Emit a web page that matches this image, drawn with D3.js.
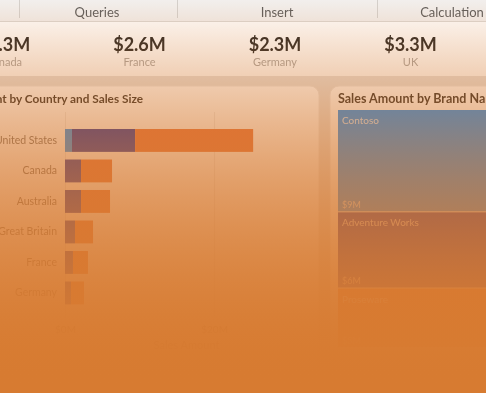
<!DOCTYPE html>
<html>
<head>
<meta charset="utf-8">
<script src="https://cdn.jsdelivr.net/npm/d3@7"></script>
<style>
  html, body { margin: 0; padding: 0; background: #e7e4e2; overflow: hidden; }
  svg { display: block; font-family: Lato, "Open Sans", sans-serif; filter: blur(0.4px); }
</style>
</head>
<body>
<div id="chart"></div>
<script>
var W = 486, H = 393;

// ribbon tabs
var tabs = ["Queries", "Insert", "Calculation"];

// KPI cards
var cardValues = ["$5.3M", "$2.6M", "$2.3M", "$3.3M"];
var cardLabels = ["Canada", "France", "Germany", "UK"];

// bar chart: sales amount ($M) by country and sales size
var countries = ["United States", "Canada", "Australia", "Great Britain", "France", "Germany"];
var sizes = ["Small", "Medium", "Large"];
var small  = [0.94, 0, 0, 0, 0, 0];
var medium = [8.46, 2.15, 2.15, 1.34, 1.07, 0.81];
var large  = [15.84, 4.16, 3.89, 2.42, 2.01, 1.74];
var xTicks = [0, 20];

// treemap: sales amount ($M) by brand
var brands = ["Contoso", "Adventure Works", "Proseware"];
var brandSales = [8.6, 6.4, 5.0];

var svg = d3.select("#chart").append("svg")
  .attr("width", W)
  .attr("height", H);

// canvas
svg.append("rect").attr("width", W).attr("height", H).attr("fill", "#e6e2df");

// ---- ribbon ----
svg.append("rect").attr("x", 0).attr("y", 0).attr("width", W).attr("height", 21).attr("fill", "#f2efed");
svg.append("line").attr("x1", 0).attr("x2", W).attr("y1", 21.5).attr("y2", 21.5)
  .attr("stroke", "#ddd8d4");
[19, 177, 377].forEach(function(sx) {
  svg.append("line").attr("x1", sx + 0.5).attr("x2", sx + 0.5).attr("y1", 0).attr("y2", 18)
    .attr("stroke", "#d4d0cc");
});
var tabX = [97, 277, 452];
svg.selectAll(".tab").data(tabs).enter().append("text")
  .attr("class", "tab")
  .attr("x", function(d, i) { return tabX[i]; })
  .attr("y", 17)
  .attr("text-anchor", "middle")
  .style("font-size", "13px")
  .attr("fill", "#605e5c")
  .text(function(d) { return d; });

// ---- cards ----
svg.append("rect").attr("x", 0).attr("y", 22).attr("width", W).attr("height", 54).attr("fill", "#ffffff");
var cx = d3.scalePoint().domain(cardLabels).range([4, 410.5]);
svg.selectAll(".cardVal").data(cardValues).enter().append("text")
  .attr("class", "cardVal")
  .attr("x", function(d, i) { return cx(cardLabels[i]); })
  .attr("y", 51)
  .attr("text-anchor", "middle")
  .style("font-size", "18px").style("font-weight", "bold")
  .attr("fill", "#252423")
  .text(function(d) { return d; });
svg.selectAll(".cardLab").data(cardLabels).enter().append("text")
  .attr("class", "cardLab")
  .attr("x", function(d) { return cx(d); })
  .attr("y", 66)
  .attr("text-anchor", "middle")
  .style("font-size", "11px")
  .attr("fill", "#a8a6a4")
  .text(function(d) { return d; });

// ---- panels ----
svg.append("rect").attr("x", -20).attr("y", 86).attr("width", 339).attr("height", 340)
  .attr("rx", 9).attr("fill", "#ffffff").attr("stroke", "#ebe8e6");
svg.append("rect").attr("x", 330).attr("y", 86).attr("width", 200).attr("height", 340)
  .attr("rx", 9).attr("fill", "#ffffff").attr("stroke", "#ebe8e6");

// ---- bar chart ----
svg.append("text").attr("x", 143).attr("y", 103).attr("text-anchor", "end")
  .style("font-size", "11.8px").style("font-weight", "bold").attr("fill", "#252423")
  .text("Sales Amount by Country and Sales Size");

var table = countries.map(function(c, i) {
  return { country: c, Small: small[i], Medium: medium[i], Large: large[i] };
});
var stacked = d3.stack().keys(sizes)(table);

var x = d3.scaleLinear().domain([0, 32.6]).range([65, 308]);
var y = d3.scaleBand().domain(countries).range([125.2, 308.2])
  .paddingInner(0.25).paddingOuter(0.125);
var color = d3.scaleOrdinal().domain(sizes).range(["#118dff", "#12239e", "#e66c37"]);

// gridlines
svg.selectAll(".grid").data(xTicks).enter().append("line")
  .attr("class", "grid")
  .attr("x1", function(d) { return x(d) + 0.5; })
  .attr("x2", function(d) { return x(d) + 0.5; })
  .attr("y1", 112).attr("y2", 318)
  .attr("stroke", "#eceae8");

svg.append("g").selectAll("g").data(stacked).enter().append("g")
  .attr("fill", function(d) { return color(d.key); })
  .selectAll("rect").data(function(d) { return d; }).enter().append("rect")
  .attr("x", function(d) { return x(d[0]); })
  .attr("y", function(d) { return y(d.data.country); })
  .attr("width", function(d) { return x(d[1]) - x(d[0]); })
  .attr("height", y.bandwidth());

var yAxis = svg.append("g").attr("transform", "translate(63,0)")
  .call(d3.axisLeft(y).tickSize(0).tickPadding(6));
yAxis.select(".domain").remove();
yAxis.selectAll("text").style("font-size", "10.5px").attr("fill", "#6e6a66")
  .style("font-family", "Lato, 'Open Sans', sans-serif");

var xAxis = svg.append("g").attr("transform", "translate(0,318)")
  .call(d3.axisBottom(x).tickValues(xTicks).tickSize(0).tickPadding(8)
    .tickFormat(function(d) { return "$" + d + "M"; }));
xAxis.select(".domain").remove();
xAxis.selectAll("text").style("font-size", "10px").attr("fill", "#605e5c")
  .style("font-family", "Lato, 'Open Sans', sans-serif");
svg.append("text").attr("x", (x.range()[0] + x.range()[1]) / 2).attr("y", 349)
  .attr("text-anchor", "middle").style("font-size", "11px").attr("fill", "#252423")
  .text("Sales Amount");

// ---- treemap ----
svg.append("text").attr("x", 338).attr("y", 103)
  .style("font-size", "12.5px").style("font-weight", "bold").attr("fill", "#252423")
  .text("Sales Amount by Brand Name");

var root = d3.hierarchy({ children: brands.map(function(b, i) { return { name: b, value: brandSales[i] }; }) })
  .sum(function(d) { return d.value || 0; });
d3.treemap().tile(d3.treemapSlice).size([170, 237]).paddingInner(1)(root);
var tColor = d3.scaleOrdinal().domain(brands).range(["#118dff", "#12239e", "#e66c37"]);

var cell = svg.append("g").attr("transform", "translate(338,110)")
  .selectAll("g").data(root.leaves()).enter().append("g")
  .attr("transform", function(d) { return "translate(" + d.x0 + "," + d.y0 + ")"; });
cell.append("rect")
  .attr("width", function(d) { return d.x1 - d.x0; })
  .attr("height", function(d) { return d.y1 - d.y0; })
  .attr("fill", function(d) { return tColor(d.data.name); });
cell.append("text").attr("x", 4).attr("y", 14)
  .style("font-size", "10px").attr("fill", "#ffffff").attr("fill-opacity", 0.8)
  .text(function(d) { return d.data.name; });
cell.append("text").attr("x", 4).attr("y", function(d) { return d.y1 - d.y0 - 3; })
  .style("font-size", "9px").attr("fill", "#ffffff").attr("fill-opacity", 0.75)
  .text(function(d) { return "$" + d3.format(".0f")(d.data.value) + "M"; });

// ---- orange fade over the whole page ----
var grad = svg.append("defs").append("linearGradient").attr("id", "fade")
  .attr("x1", 0).attr("y1", 0).attr("x2", 0).attr("y2", 1);
d3.range(0, 1.0001, 0.05).forEach(function(t) {
  var py = t * H;
  var a = py >= 380 ? 1 : 1 - Math.pow(1 - py / 380, 2);
  grad.append("stop").attr("offset", t).attr("stop-color", "#d77b31").attr("stop-opacity", a);
});
svg.append("rect").attr("width", W).attr("height", H).attr("fill", "url(#fade)");
</script>
</body>
</html>
